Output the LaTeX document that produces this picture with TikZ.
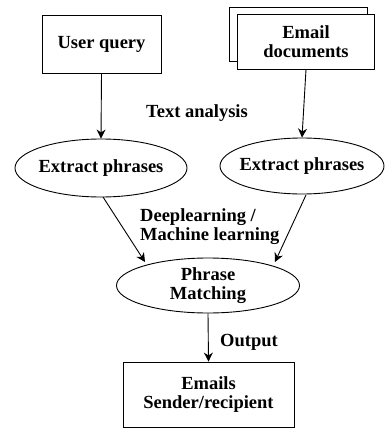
\documentclass[tikz,border=0pt]{standalone}
\usepackage{fontspec}
\setmainfont{Liberation Serif}
\usetikzlibrary{shapes.geometric,arrows.meta}
\begin{document}
\begin{tikzpicture}[x=1pt,y=-1pt,
  every node/.style={font=\bfseries\fontsize{18.5}{20}\selectfont, align=center, inner sep=0pt},
  boxnode/.style={draw, line width=0.9pt, fill=white},
  ellnode/.style={draw, ellipse, line width=0.9pt, fill=white},
  conn/.style={line width=0.9pt, -{Stealth[length=9pt,width=9pt]}},
  lbl/.style={}]
\useasboundingbox (0,0) rectangle (384,433);
\node[boxnode, minimum width=119pt, minimum height=58pt] (uq) at (101.5,44) {User query};
\node[boxnode, minimum width=138pt, minimum height=54pt] (back) at (298,34) {};
\node[boxnode, minimum width=137pt, minimum height=55pt] (ed) at (306,41.5) {Email\\[-1pt]documents};
\node[ellnode, minimum width=172pt, minimum height=58pt, label={center:Extract phrases}] (ep1) at (101,168) {};
\node[ellnode, minimum width=164pt, minimum height=56pt, label={center:Extract phrases}] (ep2) at (302,166) {};
\node[ellnode, minimum width=183pt, minimum height=55pt, label={center:Phrase\\[-1pt]Matching}] (pm) at (208,285.5) {};
\node[boxnode, minimum width=171pt, minimum height=65pt] (out) at (208.5,394.5) {Emails\\[-1pt]Sender/recipient};
\node[lbl] (ta) at (197,113) {Text analysis};
\node[lbl, align=left, anchor=west] (dl) at (140,227) {Deeplearning /\\[-1pt]Machine learning};
\node[lbl, anchor=west] (op) at (220,342) {Output};
\draw[conn] (uq.south) -- (ep1.north);
\draw[conn] (ed.south) -- (ep2.north);
\coordinate (a1) at (103,197);
\coordinate (a2) at (306,195);
\draw[conn] (a1) -- (145,262);
\draw[conn] (a2) -- (275,262);
\draw[conn] (pm.south) -- (out.north);
\end{tikzpicture}
\end{document}
